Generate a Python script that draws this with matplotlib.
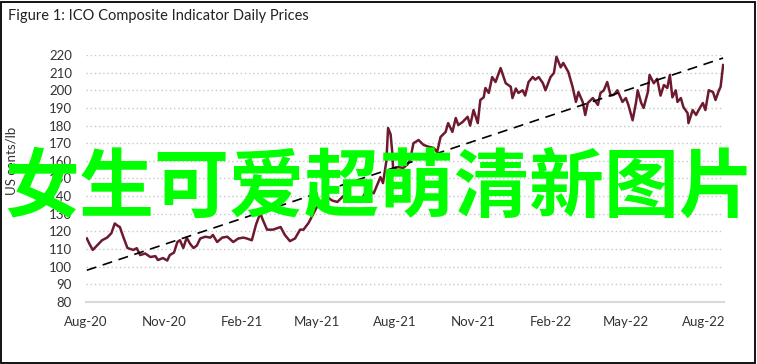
import matplotlib
matplotlib.use("Agg")
import matplotlib.pyplot as plt
import numpy as np
import pandas as pd
from matplotlib.patches import Rectangle

title = "Figure 1: ICO Composite Indicator Daily Prices"
ylabel = "US cents/lb"
watermark = "女生可爱超萌清新图片"

dates = [
    "2020-08-02", "2020-08-05", "2020-08-09", "2020-08-14", "2020-08-20", "2020-08-26", "2020-08-31",
    "2020-09-04", "2020-09-08", "2020-09-10", "2020-09-14", "2020-09-19", "2020-09-26", "2020-09-30",
    "2020-10-04", "2020-10-10", "2020-10-16", "2020-10-22", "2020-10-25", "2020-10-31",
    "2020-11-05", "2020-11-08", "2020-11-13", "2020-11-17", "2020-11-20", "2020-11-24", "2020-11-28",
    "2020-12-02", "2020-12-06", "2020-12-10", "2020-12-14", "2020-12-20", "2020-12-26", "2020-12-29",
    "2021-01-03", "2021-01-09", "2021-01-15", "2021-01-22", "2021-01-28",
    "2021-02-03", "2021-02-07", "2021-02-13", "2021-02-18", "2021-02-23", "2021-02-26",
    "2021-03-03", "2021-03-10", "2021-03-19", "2021-03-24", "2021-03-30",
    "2021-04-05", "2021-04-11", "2021-04-15", "2021-04-21", "2021-04-27",
    "2021-05-01", "2021-05-07", "2021-05-13", "2021-05-19", "2021-05-25",
    "2021-06-01", "2021-06-09", "2021-06-15", "2021-06-21", "2021-06-29",
    "2021-07-07", "2021-07-15", "2021-07-18", "2021-07-22", "2021-07-24", "2021-07-27", "2021-07-29", "2021-07-30",
    "2021-08-04", "2021-08-11", "2021-08-16", "2021-08-19", "2021-08-23", "2021-08-29",
    "2021-09-04", "2021-09-10", "2021-09-16", "2021-09-20", "2021-09-24", "2021-09-30",
    "2021-10-03", "2021-10-08", "2021-10-12", "2021-10-15", "2021-10-20", "2021-10-26", "2021-10-29",
    "2021-11-02", "2021-11-07", "2021-11-10", "2021-11-14", "2021-11-16", "2021-11-20", "2021-11-24", "2021-11-28",
    "2021-12-04", "2021-12-10", "2021-12-16", "2021-12-18", "2021-12-22", "2021-12-25", "2021-12-30",
    "2022-01-02", "2022-01-06", "2022-01-11", "2022-01-14", "2022-01-18", "2022-01-23", "2022-01-26",
    "2022-02-01", "2022-02-05", "2022-02-08", "2022-02-13", "2022-02-16", "2022-02-22", "2022-02-27",
    "2022-03-03", "2022-03-06", "2022-03-11", "2022-03-14", "2022-03-17", "2022-03-23", "2022-03-29",
    "2022-04-01", "2022-04-05", "2022-04-09", "2022-04-13", "2022-04-17", "2022-04-21", "2022-04-27",
    "2022-05-01", "2022-05-04", "2022-05-09", "2022-05-13", "2022-05-15", "2022-05-19", "2022-05-22", "2022-05-27", "2022-05-29",
    "2022-06-03", "2022-06-07", "2022-06-11", "2022-06-15", "2022-06-19", "2022-06-22", "2022-06-25", "2022-06-29",
    "2022-07-01", "2022-07-05", "2022-07-08", "2022-07-13", "2022-07-14", "2022-07-19", "2022-07-23", "2022-07-26", "2022-07-31",
    "2022-08-03", "2022-08-07", "2022-08-12", "2022-08-15", "2022-08-19", "2022-08-21", "2022-08-24",
]
prices = [
    116, 113, 109.5, 112, 115, 116.5, 119,
    124.5, 123, 122.5, 117, 110.6, 109.5, 110.5,
    106.6, 107.5, 105.5, 106, 103.8, 104.9,
    103.5, 106.6, 108, 114, 115, 110.6, 116.5,
    113, 110.6, 112, 116, 117, 116.5, 118,
    114, 116.5, 117, 114, 116,
    116.5, 116, 115, 124, 130.4, 126.5,
    121, 121, 122.5, 118, 114.5,
    116, 121, 121, 124.8, 130.4,
    134, 137, 139.5, 137.5, 136.7,
    140, 139, 138, 136.7, 143.5,
    141.6, 150.8, 147.4, 160, 178.6, 175, 164.5, 154.8,
    156.5, 156, 158, 160.5, 170, 171.8,
    169, 168, 167.3, 165, 173.5, 176.4,
    181.4, 176.4, 184.3, 180.3, 182, 185, 180,
    188.8, 181.4, 194.5, 196, 201.3, 198.5, 207.5, 204.7,
    212.6, 204, 202, 195.6, 201, 198.5, 200,
    197, 204.7, 207.5, 206, 207.5, 204, 200,
    207.5, 209.8, 219, 213, 215.5, 210.4, 202,
    193.4, 199, 193.4, 186, 192.8, 195.6, 191.7,
    198.5, 200, 204.7, 197, 197.5, 200, 193.4,
    195.6, 191.7, 183, 193, 200, 193, 190, 199, 208.7,
    204, 206.5, 197, 203, 201.3, 208.7, 196, 200,
    193.4, 195.6, 190.5, 187, 181.4, 188.8, 186, 188.8, 192.8,
    188.8, 200, 199, 194.5, 200, 202, 214.3,
]
trend_dates = ["2020-08-02", "2022-08-24"]
trend_values = [98, 218.3]
yticks = list(range(80, 221, 10))
xtick_dates = ["2020-08-01", "2020-11-01", "2021-02-01", "2021-05-01", "2021-08-01",
               "2021-11-01", "2022-02-01", "2022-05-01", "2022-08-01"]
xtick_labels = ["Aug-20", "Nov-20", "Feb-21", "May-21", "Aug-21", "Nov-21", "Feb-22", "May-22", "Aug-22"]

W, H = 757, 364
fig = plt.figure(figsize=(W / 100, H / 100), dpi=100)
fig.patch.set_facecolor("white")
font = ["Lato", "DejaVu Sans"]
txtcol = "#333333"

ax = fig.add_axes([86 / W, (H - 302) / H, (724 - 86) / W, (302 - 55) / H])
x = pd.to_datetime(dates)
ax.plot(x, prices, color="#6d1a2f", lw=1.8, zorder=3)
ax.plot(pd.to_datetime(trend_dates), trend_values, color="black", lw=1.2,
        dashes=(6, 4), zorder=4)

ax.set_xlim(pd.Timestamp("2020-08-01"), pd.Timestamp("2022-08-25"))
ax.set_ylim(80, 220)
ax.set_yticks(yticks)
ax.set_yticklabels([str(v) for v in yticks], fontfamily=font, fontsize=9.5, color=txtcol)
ax.set_xticks(pd.to_datetime(xtick_dates))
ax.set_xticklabels(xtick_labels, fontfamily=font, fontsize=9.5, color=txtcol)
ax.tick_params(axis="both", length=0)
ax.tick_params(axis="y", pad=10)
ax.tick_params(axis="x", pad=10)
for v in yticks[1:]:
    ax.axhline(v, color="#c8c8c8", lw=1.0, ls=(0, (1, 2)), zorder=1)
for s in ["top", "right", "left"]:
    ax.spines[s].set_visible(False)
ax.spines["bottom"].set_color("#d9d9d9")
ax.spines["bottom"].set_linewidth(1.5)
ax.set_ylabel(ylabel, fontfamily=font, fontsize=9.5, color=txtcol)
ax.yaxis.set_label_coords(-68 / (724 - 86), (302 - 161) / (302 - 55))

fig.text(8 / W, 1 - 16 / H, title, fontfamily=font, fontsize=10.5, color="#222222",
         ha="left", va="center")

fig.text(379 / W, 1 - 189 / H, watermark, fontfamily=["Noto Sans CJK SC", "DejaVu Sans"],
         fontsize=54, fontweight="bold", color="#00ff00", ha="center", va="center", zorder=10)

fig.add_artist(Rectangle((1 / W, 1 / H), (W - 3) / W, (H - 3) / H, transform=fig.transFigure,
                         fill=False, edgecolor="black", lw=1.3))

fig.savefig("out.png", dpi=100)
